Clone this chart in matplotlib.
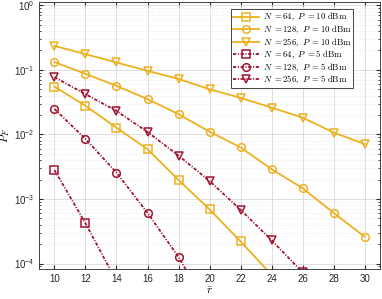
import matplotlib
matplotlib.use("Agg")
import matplotlib.pyplot as plt

plt.rcParams["mathtext.fontset"] = "cm"
plt.rcParams["font.family"] = ["Liberation Sans", "DejaVu Sans"]

r_bar = [10, 12, 14, 16, 18, 20, 22, 24, 26, 28, 30]

# P = 10 dBm
pf_64_10 = [0.055, 0.0277, 0.0127, 0.0059, 0.00197, 0.00069, 0.00022, 6.7e-5]
pf_128_10 = [0.132, 0.0867, 0.0565, 0.0352, 0.0206, 0.011, 0.0063, 0.0029, 0.00147, 0.00061, 0.00026]
pf_256_10 = [0.235, 0.175, 0.130, 0.0965, 0.0724, 0.050, 0.0368, 0.026, 0.0182, 0.0107, 0.0071]

# P = 5 dBm
pf_64_5 = [0.0028, 0.00042, 5.3e-5]
pf_128_5 = [0.0248, 0.0085, 0.00256, 0.00061, 0.000126, 1.9e-5]
pf_256_5 = [0.077, 0.042, 0.0231, 0.0109, 0.0047, 0.0019, 0.00068, 0.00023, 7.3e-5]

yellow = "#EDB120"
red = "#A2142F"

series = [
    (pf_64_10, "s", yellow, "-", r"$N\ {=}64,\ P\ {=}10\ \mathrm{dBm}$"),
    (pf_128_10, "o", yellow, "-", r"$N\ {=}128,\ P\ {=}10\ \mathrm{dBm}$"),
    (pf_256_10, "v", yellow, "-", r"$N\ {=}256,\ P\ {=}10\ \mathrm{dBm}$"),
    (pf_64_5, "s", red, "-.", r"$N\ {=}64,\ P\ {=}5\ \mathrm{dBm}$"),
    (pf_128_5, "o", red, "-.", r"$N\ {=}128,\ P\ {=}5\ \mathrm{dBm}$"),
    (pf_256_5, "v", red, "-.", r"$N\ {=}256,\ P\ {=}5\ \mathrm{dBm}$"),
]

fig = plt.figure(figsize=(3.82, 2.99), dpi=100)
ax = fig.add_axes([0.102, 0.100, 0.893, 0.893])

for vals, mk, col, ls, lab in series:
    line, = ax.plot(r_bar[:len(vals)], vals, linestyle=ls, marker=mk, color=col,
                    markerfacecolor="none", markeredgewidth=1.1, markersize=5.5,
                    linewidth=1.3, label=lab)
    if ls == "-.":
        line.set_dashes([1.8, 0.9, 0.6, 0.9])

ax.set_yscale("log")
ax.set_xlim(9, 31)
ax.set_ylim(8.2e-5, 1.12)
ax.set_xticks(range(10, 31, 2))
ax.grid(True, which="major", color="#d9d9d9", linewidth=0.6)
ax.grid(True, which="minor", color="#e6e6e6", linestyle=":", linewidth=0.6)
ax.tick_params(which="both", direction="in", top=True, right=True,
               labelsize=7, colors="#262626", length=3)
ax.tick_params(which="minor", length=1.5)
for s in ax.spines.values():
    s.set_color("#262626")
    s.set_linewidth(0.6)

ax.set_xlabel(r"$\bar{r}$", fontsize=8, labelpad=1)
ax.set_ylabel(r"$P_F$", fontsize=8)
ax.yaxis.set_label_coords(-0.078, 0.5)

leg = ax.legend(loc="upper right", fontsize=6.3, fancybox=False, framealpha=1,
                edgecolor="#262626", handlelength=3.0, handletextpad=0.4,
                borderpad=0.25, labelspacing=0.0, borderaxespad=0,
                bbox_to_anchor=(0.922, 0.975))
leg.get_frame().set_linewidth(0.6)

fig.savefig("out.png", dpi=100)
